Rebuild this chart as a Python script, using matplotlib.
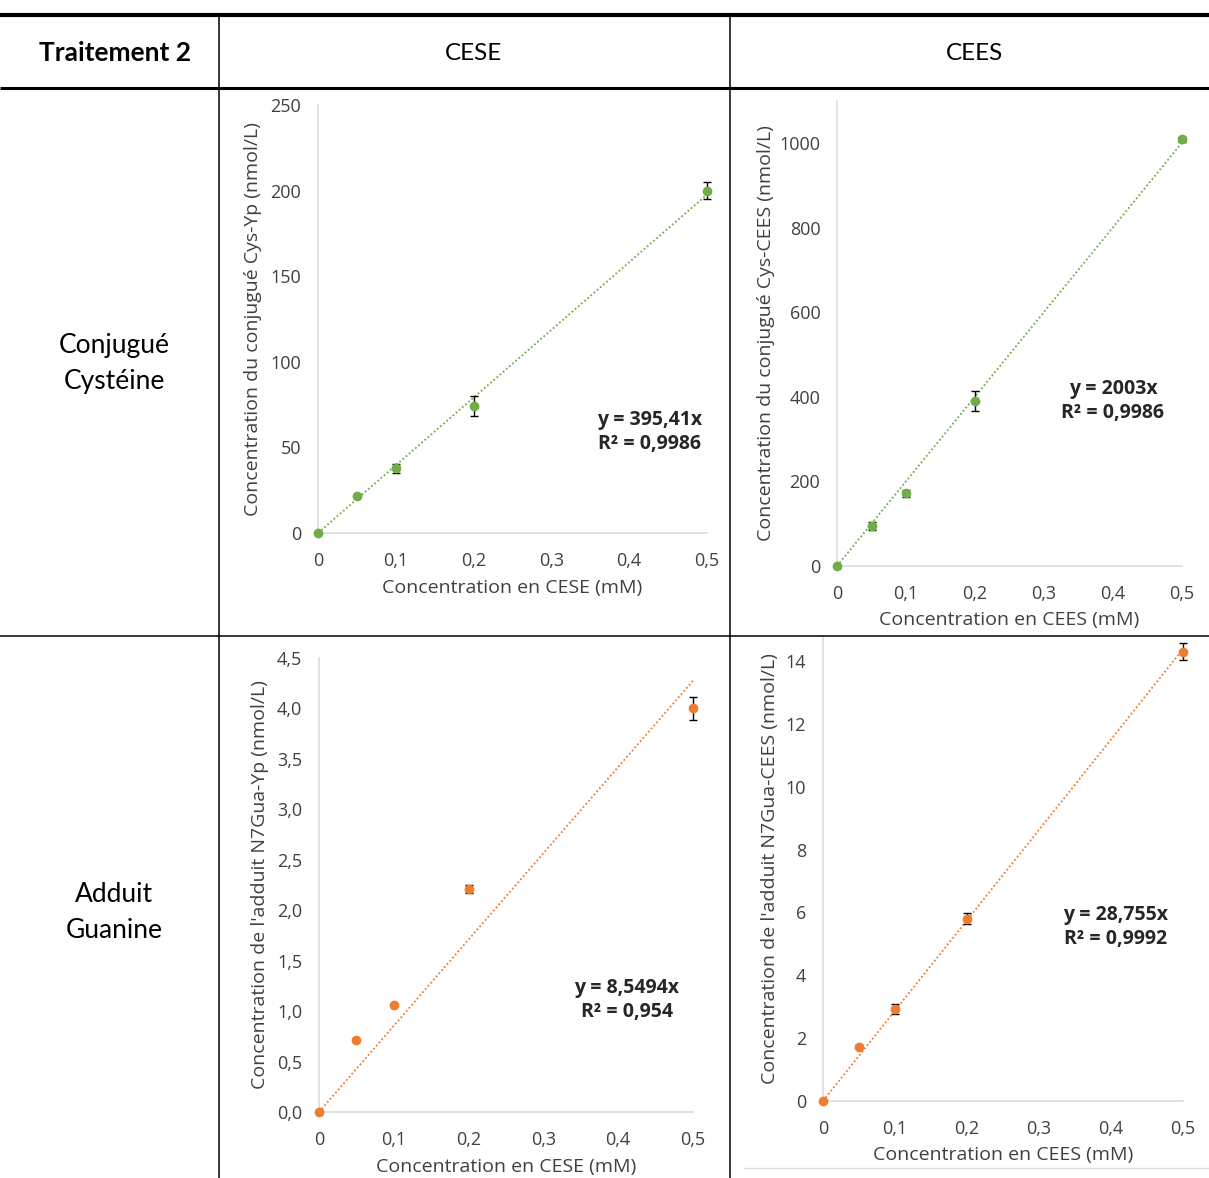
import matplotlib
matplotlib.use("Agg")
import matplotlib.pyplot as plt
from matplotlib.lines import Line2D

W, H = 1209, 1178

# ---------------- data ----------------
x_conc = [0, 0.05, 0.1, 0.2, 0.5]

cys_cese = [0, 21.5, 37.8, 74.2, 200.0]
cys_cese_err = [0, 1.0, 2.5, 5.7, 5.0]
cys_cees = [0, 95, 172, 391, 1009]
cys_cees_err = [0, 9, 8, 24, 5]
gua_cese = [0, 0.71, 1.06, 2.21, 4.0]
gua_cese_err = [0, 0.01, 0.01, 0.04, 0.11]
gua_cees = [0, 1.73, 2.92, 5.80, 14.29]
gua_cees_err = [0, 0.05, 0.15, 0.17, 0.27]

slopes = [395.41, 2003, 8.5494, 28.755]
slope_labels = ["395,41", "2003", "8,5494", "28,755"]
r2_labels = ["0,9986", "0,9986", "0,954", "0,9992"]

x_ticks = [0, 0.1, 0.2, 0.3, 0.4, 0.5]
x_tick_labels = ["0", "0,1", "0,2", "0,3", "0,4", "0,5"]

yticks_cys_cese = [0, 50, 100, 150, 200, 250]
yticks_cys_cees = [0, 200, 400, 600, 800, 1000]
yticks_gua_cese = [0, 0.5, 1.0, 1.5, 2.0, 2.5, 3.0, 3.5, 4.0, 4.5]
ylabels_gua_cese = ["0,0", "0,5", "1,0", "1,5", "2,0", "2,5", "3,0", "3,5", "4,0", "4,5"]
yticks_gua_cees = [0, 2, 4, 6, 8, 10, 12, 14]

header_labels = ["Traitement 2", "CESE", "CEES"]
row_labels = ["Conjugué\nCystéine", "Adduit\nGuanine"]

ylabels = ["Concentration du conjugué Cys-Yp (nmol/L)",
           "Concentration du conjugué Cys-CEES (nmol/L)",
           "Concentration de l'adduit N7Gua-Yp (nmol/L)",
           "Concentration de l'adduit N7Gua-CEES (nmol/L)"]
xlabels = ["Concentration en CESE (mM)", "Concentration en CEES (mM)",
           "Concentration en CESE (mM)", "Concentration en CEES (mM)"]

GREEN = "#70AD47"
ORANGE = "#ED7D31"
AXGRAY = "#D9D9D9"
TICKC = "#404040"
FONT = "Open Sans"
TFONT = "Lato"

fig = plt.figure(figsize=(W / 100, H / 100), dpi=100)


def fx(x):
    return x / W


def fy(y):
    return 1 - y / H


def hline(y, x0, x1, lw, color="black"):
    fig.add_artist(Line2D([fx(x0), fx(x1)], [fy(y), fy(y)], transform=fig.transFigure,
                          color=color, lw=lw, solid_capstyle="butt"))


def vline(x, y0, y1, lw, color="black"):
    fig.add_artist(Line2D([fx(x), fx(x)], [fy(y0), fy(y1)], transform=fig.transFigure,
                          color=color, lw=lw, solid_capstyle="butt"))


# ---------------- table ----------------
hline(15, 0, W, 3.0)
hline(88, 0, W, 2.2)
hline(636, 0, W, 1.1)
vline(219, 15, H, 1.1)
vline(730, 15, H, 1.1)
hline(1168, 743, W, 0.9, AXGRAY)

fig.text(fx(115), fy(53), header_labels[0], ha="center", va="center",
         fontsize=19, fontweight="bold", family=TFONT)
fig.text(fx(474), fy(53), header_labels[1], ha="center", va="center",
         fontsize=17.5, family=TFONT)
fig.text(fx(975), fy(53), header_labels[2], ha="center", va="center",
         fontsize=17.5, family=TFONT)
fig.text(fx(114), fy(363), row_labels[0], ha="center", va="center",
         fontsize=19, family=TFONT, linespacing=1.55)
fig.text(fx(114), fy(912), row_labels[1], ha="center", va="center",
         fontsize=19, family=TFONT, linespacing=1.55)

# ---------------- charts ----------------
panels = [
    dict(box=(318, 707, 105, 533), ytop=250, y=cys_cese, err=cys_cese_err, color=GREEN,
         yticks=yticks_cys_cese, yticklabels=[str(v) for v in yticks_cys_cese],
         ylab_x=253, xlab_y=588, eq=(650, 432)),
    dict(box=(837, 1182, 101, 566), ytop=1100, y=cys_cees, err=cys_cees_err, color=GREEN,
         yticks=yticks_cys_cees, yticklabels=[str(v) for v in yticks_cys_cees],
         ylab_x=766, xlab_y=620, eq=(1113, 401)),
    dict(box=(319, 693, 658, 1112), ytop=4.5, y=gua_cese, err=gua_cese_err, color=ORANGE,
         yticks=yticks_gua_cese, yticklabels=ylabels_gua_cese,
         ylab_x=260, xlab_y=1167, eq=(627, 1000)),
    dict(box=(823, 1183, 637, 1101), ytop=14.76, y=gua_cees, err=gua_cees_err, color=ORANGE,
         yticks=yticks_gua_cees, yticklabels=[str(v) for v in yticks_gua_cees],
         ylab_x=770, xlab_y=1155, eq=(1116, 927)),
]

for i, p in enumerate(panels):
    l, r, t, b = p["box"]
    ax = fig.add_axes([fx(l), fy(b), (r - l) / W, (b - t) / H])
    ax.set_xlim(0, 0.5)
    ax.set_ylim(0, p["ytop"])
    for s in ["top", "right"]:
        ax.spines[s].set_visible(False)
    for s in ["left", "bottom"]:
        ax.spines[s].set_color(AXGRAY)
        ax.spines[s].set_linewidth(1.1)
        ax.spines[s].set_zorder(0)
    ax.set_xticks(x_ticks)
    ax.set_xticklabels(x_tick_labels)
    ax.set_yticks(p["yticks"])
    ax.set_yticklabels(p["yticklabels"])
    ax.tick_params(length=0, labelsize=13, labelcolor=TICKC)
    ax.tick_params(axis="y", pad=12)
    ax.tick_params(axis="x", pad=14)
    for lab in ax.get_xticklabels() + ax.get_yticklabels():
        lab.set_family(FONT)

    xs = [0, 0.5]
    ax.plot(xs, [slopes[i] * v for v in xs], linestyle=(0, (1, 1.3)), color=p["color"],
            lw=1.3, clip_on=False, zorder=2)
    ax.errorbar(x_conc, p["y"], yerr=p["err"], fmt="none", ecolor="black",
                elinewidth=1.0, capsize=3, capthick=1.0, clip_on=False, zorder=3)
    ax.plot(x_conc, p["y"], "o", color=p["color"], markersize=6, clip_on=False, zorder=4)

    ax.set_ylabel(ylabels[i], fontsize=14, family=FONT, color=TICKC, va="center")
    ax.yaxis.set_label_coords((p["ylab_x"] - l) / (r - l), 0.5)
    ax.set_xlabel(xlabels[i], fontsize=14, family=FONT, color=TICKC, va="center")
    ax.xaxis.set_label_coords(0.5, (b - p["xlab_y"]) / (b - t))

    ex, ey = p["eq"]
    ax.text((ex - l) / (r - l), (b - ey) / (b - t),
            "y = %sx\nR² = %s" % (slope_labels[i], r2_labels[i]),
            transform=ax.transAxes, ha="center", va="center", fontsize=14,
            fontweight="bold", family=FONT, color="#262626", linespacing=1.25)

fig.savefig("out.png", dpi=100)
